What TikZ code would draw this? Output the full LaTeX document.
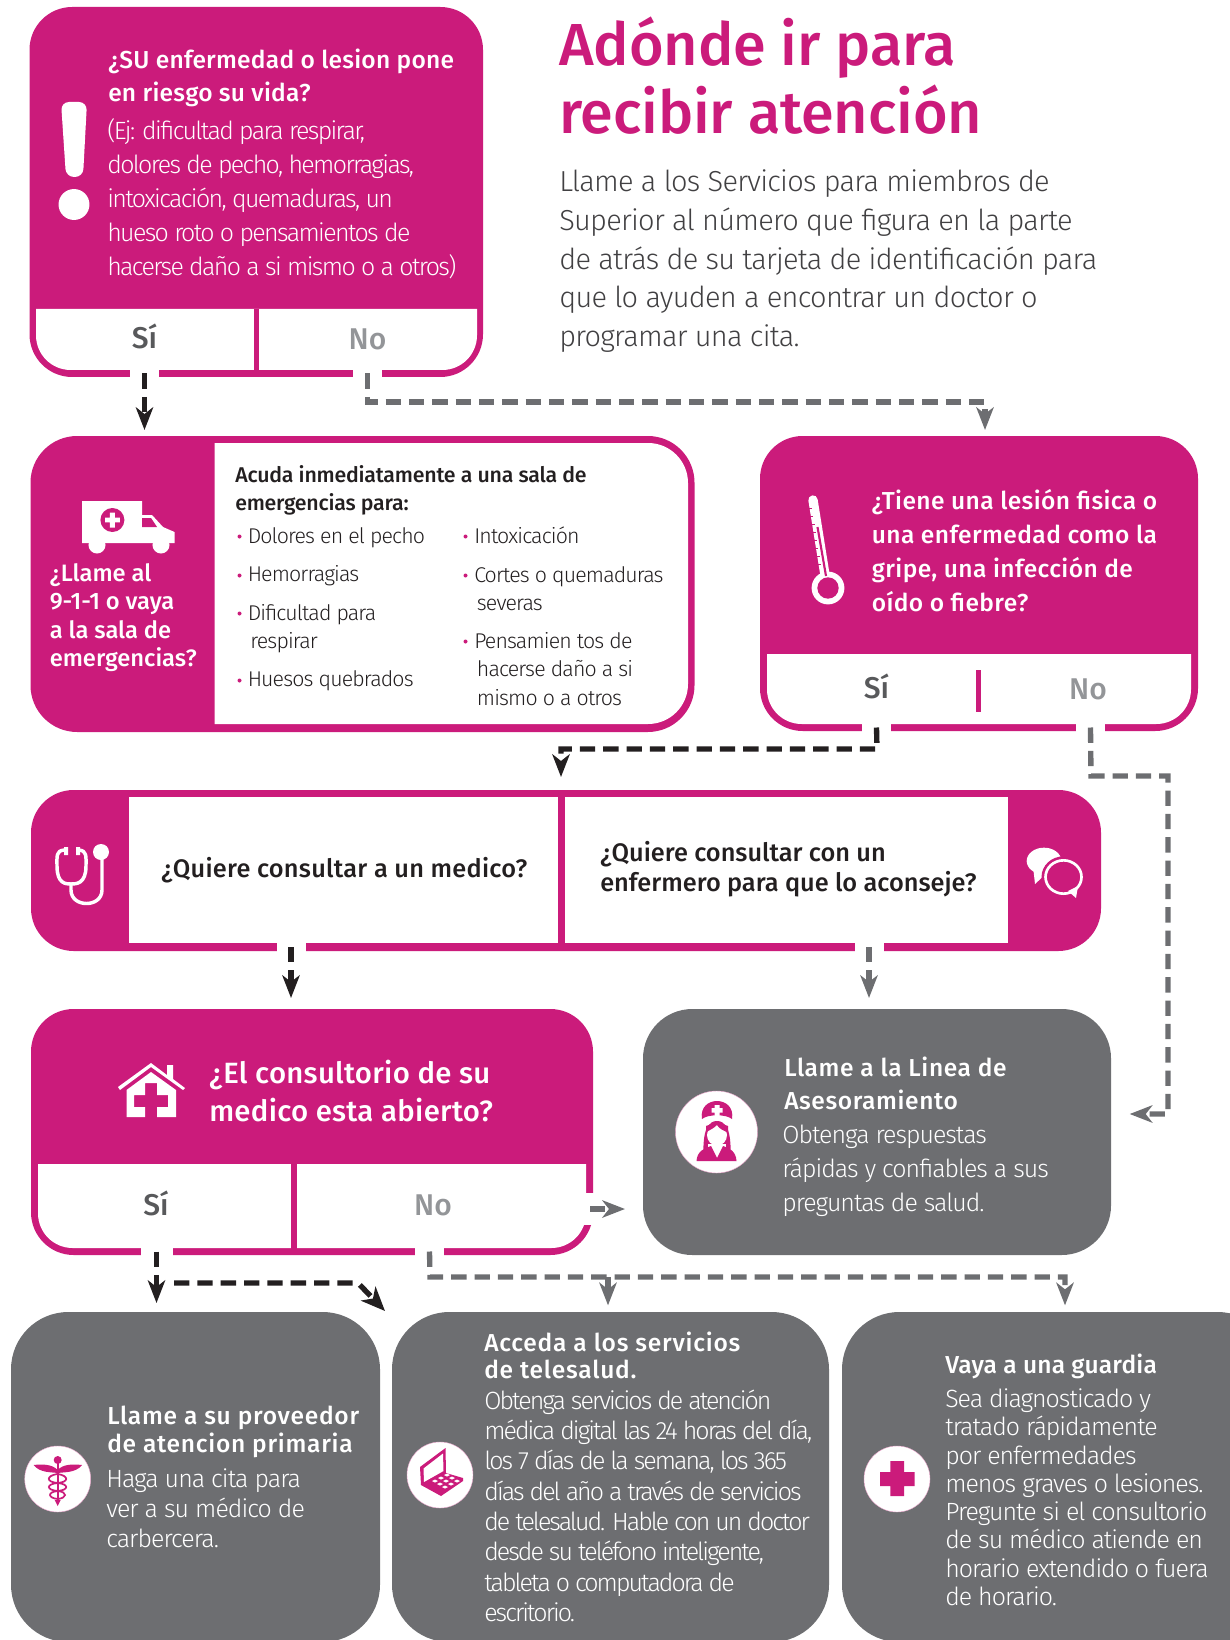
\documentclass[tikz,border=0pt]{standalone}
\usepackage{fontspec}
\usetikzlibrary{arrows.meta}
\setmainfont{Fira Sans}
\newfontfamily\lt{Fira Sans Light}
\newfontfamily\md{Fira Sans Medium}
\definecolor{mag}{HTML}{CB1B7B}
\definecolor{gry}{HTML}{6D6E71}
\definecolor{blk}{HTML}{231F20}
\definecolor{sic}{HTML}{58595B}
\definecolor{noc}{HTML}{939598}
\definecolor{intr}{HTML}{414042}
\newcommand\fs[3]{#1\fontsize{#2}{#2}\selectfont\addfontfeature{LetterSpace=#3}}
\newcommand\rbox[6]{\pgfmathsetmacro\bcx{(#3+#5)/2}\pgfmathsetmacro\bcy{(#4+#6)/2}\pgfmathsetmacro\bw{(#5-#3)*0.75}\pgfmathsetmacro\bh{(#6-#4)*0.75}\node[#2,minimum width=\bw pt,minimum height=\bh pt] (#1) at (\bcx,\bcy) {};}
\newcommand\txt[6]{\node[anchor=base west,inner sep=0pt,#4] (#1) at (#2,#3) {\vtop{\baselineskip=#5pt\lineskip=0pt\lineskiplimit=-100pt\halign{##\hfil\cr #6\crcr}}};}
\tikzset{
 shp/.style={inner sep=0pt,outer sep=0pt,rounded corners=32pt},
 magbox/.style={shp,fill=mag},
 grybox/.style={shp,fill=gry,rounded corners=37pt},
 bigbox/.style={shp,fill=gry,rounded corners=43pt},
 gap/.style={fill=white,inner sep=0pt,outer sep=0pt},
 head/.style={text=white,font=\fs{\md}{18.4}{#1}},
 head/.default=1,
 body/.style={text=white,font=\fs{\lt}{18.7}{#1}},
 blist/.style={text=blk,font=\fs{\lt}{16}{-4}},
 dhead/.style={text=blk,font=\fs{\md}{16}{-1}},
 qhead/.style={text=blk,font=\fs{\md}{19}{#1}},
 sitx/.style={text=sic,font=\fs{\md}{22.5}{0},anchor=base,inner sep=0pt},
 notx/.style={text=noc,font=\fs{\md}{22.5}{0},anchor=base,inner sep=0pt},
 conn/.style={line width=4pt,dash pattern=on 11.5pt off 6pt},
 yes/.style={conn,draw=blk},
 nope/.style={conn,draw=gry},
 tipk/.style={-{Stealth[length=17pt,width=13pt,inset=5pt,color=blk]}},
 tipg/.style={-{Stealth[length=17pt,width=13pt,inset=5pt,color=gry]}},
 disc/.style={circle,fill=white,draw=mag!40,line width=.3pt,inner sep=0pt,outer sep=0pt},
}
\begin{document}
\begin{tikzpicture}[x=0.75pt,y=-0.75pt]
\useasboundingbox (0,0) rectangle (1230,1640);
\clip (0,0) rectangle (1230,1640);
% --- box 1
\rbox{b1}{magbox}{29.5}{7}{483}{377}
\fill[white] (36,309) -- (477,309) [rounded corners=26pt] -- (477,370) -- (36,370) [sharp corners] -- cycle;
\fill[mag] (254,309) rectangle (259,372);
\node[gap,minimum width=21.75pt,minimum height=7pt] (g1si) at (144.5,373.5) {};
\node[gap,minimum width=21.75pt,minimum height=7pt] (g1no) at (367.5,373.5) {};
\txt{t1h}{108}{69}{head}{24.6}{¿SU enfermedad o lesion pone\cr en riesgo su vida?}
\txt{t1b}{107}{140}{body=-6.5}{25.5}{(Ej: dificultad para respirar,\cr dolores de pecho, hemorragias,\cr intoxicación, quemaduras, un\cr hueso roto o pensamientos de\cr hacerse daño a si mismo o a otros)}
\node[sitx] (s1) at (144.5,348.5) {Sí};
\node[notx] (n1) at (367.5,350) {No};
\fill[white,rounded corners=6pt] (61,102) -- (87,102) -- (83,177) -- (66,177) -- cycle;
\fill[white] (74,204.5) circle[radius=11.6pt];
% --- title
\txt{title}{559}{66}{text=mag,font=\fs{\md}{44.5}{-0.2}}{51}{Adónde ir para\cr recibir atención}
\txt{intro}{559}{192}{text=intr,font=\fs{\lt}{21.7}{-2.5}}{29}{Llame a los Servicios para miembros de\cr Superior al número que figura en la parte\cr de atrás de su tarjeta de identificación para\cr que lo ayuden a encontrar un doctor o\cr programar una cita.}
% --- box 2
\rbox{b2}{magbox,rounded corners=35pt}{30.5}{436}{694.5}{732}
\fill[white] (214.5,443) [rounded corners=30pt] -- (688,443) -- (688,724) [sharp corners] -- (214.5,724) -- cycle;
\txt{t2l}{49.5}{581}{head=0,font=\fs{\md}{17.8}{0}}{21.4}{¿Llame al\cr 9-1-1 o vaya\cr a la sala de\cr emergencias?}
\txt{t2h}{235}{482}{dhead}{21}{Acuda inmediatamente a una sala de\cr emergencias para:}
\txt{l1}{247.5}{543}{blist}{21}{Dolores en el pecho}
\txt{l2}{247.5}{581.5}{blist}{21}{Hemorragias}
\txt{l3}{247.5}{620}{blist}{21}{Dificultad para\cr\hskip2pt respirar}
\txt{l4}{247.5}{686.5}{blist}{21}{Huesos quebrados}
\txt{l5}{474}{543}{blist}{21}{Intoxicación}
\txt{l6}{474}{582}{blist}{21}{Cortes o quemaduras\cr\hskip2pt severas}
\txt{l7}{474}{648}{blist}{21.5}{Pensamien tos de\cr\hskip2pt hacerse daño a si\cr\hskip2pt mismo o a otros}
\foreach \bx/\by in {239.5/536.5,239.5/575.5,239.5/613.5,239.5/680.5,465.5/536.5,465.5/575.5,465.5/641.5}{\fill[mag] (\bx,\by) circle[radius=1.5pt];}
% ambulance
\fill[white] (82,501) -- (142,501) -- (142,515) -- (152,515) -- (163,527) -- (174.5,532) -- (174.5,543) -- (82,543) -- cycle;
\fill[white] (97,545) circle[radius=6.4pt] (161,545) circle[radius=6.4pt];
\fill[mag] (112.4,520) circle[radius=9pt];
\fill[white] (109.9,512.5) rectangle (114.9,527.5) (105,517.6) rectangle (119.8,522.4);
\fill[mag] (142,518) -- (151,518) -- (157,527) -- (142,527) -- cycle;
% --- box 3
\rbox{b3}{magbox}{760}{436}{1198}{731}
\fill[white] (767,654) -- (1191,654) [rounded corners=26pt] -- (1191,724) -- (767,724) [sharp corners] -- cycle;
\fill[mag] (976,670) rectangle (981,712);
\node[gap,minimum width=21.75pt,minimum height=7pt] (g3si) at (876.5,727.5) {};
\node[gap,minimum width=21.75pt,minimum height=7pt] (g3no) at (1090.5,727.5) {};
\txt{t3}{871.5}{509}{head=1.7}{25.6}{¿Tiene una lesión fisica o\cr una enfermedad como la\cr gripe, una infección de\cr oído o fiebre?}
\node[sitx] (s3) at (876.5,698.5) {Sí};
\node[notx] (n3) at (1088,699) {No};
% thermometer
\draw[white,line width=7pt,line cap=round] (813,500) -- (825,575);
\fill[white] (828,588) circle[radius=12.3pt];
\fill[mag] (828,588) circle[radius=8pt];
\draw[mag,line width=1.6pt] (817.5,527) -- (826,576);
\foreach \ty in {508,516,524,532,540,548,556,564}{\fill[mag] ({807+(\ty-498)*.155},\ty) rectangle ++(3.5,1.3);}
% --- box 4
\rbox{b4}{magbox}{31}{790}{1101}{951}
\fill[white] (129,797) rectangle (1008,943);
\node[inner sep=0pt,fill=mag,minimum width=5.25pt,minimum height=109.5pt] (div4) at (561.5,870) {};
\node[gap,minimum width=21.75pt,minimum height=7pt] (g4a) at (291,947) {};
\node[gap,minimum width=21.75pt,minimum height=7pt] (g4b) at (869,947) {};
\txt{t4a}{161}{877}{qhead=1}{22}{¿Quiere consultar a un medico?}
\txt{t4b}{600}{861.5}{qhead=0}{22.5}{¿Quiere consultar con un\cr enfermero para que lo aconseje?}
% stethoscope
\draw[white,line width=2.6pt,line cap=round] (64,850) .. controls (56,851) and (57,856) .. (57,866) .. controls (57,884) and (66,884) .. (71,884) .. controls (76,884) and (86,884) .. (86,866) .. controls (86,856) and (87,851) .. (79,850);
\draw[white,line width=2.6pt] (71,884) -- (71,890) .. controls (71,908) and (102,908) .. (102,890) -- (102,852);
\fill[white] (101,852) circle[radius=6pt];
\fill[white] (64,847) rectangle (68,855) (76,847) rectangle (80,855);
% chat
\fill[white] (1044,861) ellipse[x radius=13pt,y radius=10pt];
\fill[white] (1033,866) -- (1035,884) -- (1050,870) -- cycle;
\fill[mag] (1063.5,877) ellipse[x radius=16.5pt,y radius=15.5pt];
\draw[white,line width=2pt] (1063.5,877) ellipse[x radius=13.5pt,y radius=12.5pt];
\fill[white] (1068,891) -- (1076,898) -- (1078,886) -- cycle;
% --- box 5
\rbox{b5}{magbox}{31}{1009}{593}{1255}
\fill[white] (38,1164) -- (586,1164) [rounded corners=26pt] -- (586,1248) -- (38,1248) [sharp corners] -- cycle;
\fill[mag] (291,1164) rectangle (297,1250);
\node[gap,minimum width=24pt,minimum height=7pt] (g5si) at (156.5,1251.5) {};
\node[gap,minimum width=21.75pt,minimum height=7pt] (g5no) at (429.5,1251.5) {};
\node[gap,minimum width=9pt,minimum height=24pt] (g5r) at (590,1209) {};
\txt{t5}{209}{1083}{head=1,font=\fs{\md}{22}{1}}{29.2}{¿El consultorio de su\cr medico esta abierto?}
\node[sitx] (s5) at (156,1215.5) {Sí};
\node[notx] (n5) at (433,1215.5) {No};
% house
\fill[white] (118,1087) -- (151,1063) -- (167,1075) -- (167,1065) -- (173,1065) -- (173,1079) -- (185,1088) -- (183,1090) -- (151,1067) -- (120,1090) -- cycle;
\fill[white] (151,1072) -- (176,1090) -- (176,1117) -- (157,1117) -- (157,1107) -- (168,1107) -- (168,1095) -- (157,1095) -- (157,1083) -- (145,1083) -- (145,1095) -- (134,1095) -- (134,1107) -- (145,1107) -- (145,1117) -- (126.5,1117) -- (126.5,1090) -- cycle;
% --- box 6
\rbox{b6}{grybox}{643}{1009}{1111}{1255}
\txt{t6h}{784}{1076}{head=2.5}{25}{Llame a la Linea de\cr Asesoramiento}
\txt{t6b}{782}{1143.5}{body=-4}{25.5}{Obtenga respuestas\cr rápidas y confiables a sus\cr preguntas de salud.}
\node[disc,minimum size=61.5pt] (d6) at (716.5,1132) {};
% nurse
\fill[mag] (702,1119) .. controls (698,1095) and (736,1095) .. (732,1119) .. controls (726,1114) and (708,1114) .. (702,1119) -- cycle;
\fill[white] (714.5,1105) rectangle (719.5,1116) (711.5,1108) rectangle (722.5,1112.5);
\fill[mag] (717,1121) .. controls (701,1121) and (704,1150) .. (703,1158) -- (731,1158) .. controls (730,1150) and (733,1121) .. (717,1121) -- cycle;
\fill[white] (717,1135) ellipse[x radius=7.5pt,y radius=8pt];
\fill[mag] (717,1125) .. controls (712,1130) and (708,1130) .. (706,1133) -- (706,1126) -- (717,1122) -- (728,1126) -- (728,1133) .. controls (724,1130) and (720,1130) .. (717,1125) -- cycle;
\fill[white] (708,1144) rectangle (726,1158);
\fill[mag] (696.5,1161) .. controls (697,1151) and (705,1148) .. (711,1146) -- (717,1158) -- (723,1146) .. controls (729,1148) and (736,1151) .. (736.5,1161) -- cycle;
% --- box 7
\rbox{b7}{bigbox}{11}{1312}{380}{1642}
\txt{t7h}{107}{1424}{head=3}{21}{Llame a su proveedor\cr de atencion primaria}
\txt{t7b}{106}{1487}{body=-3.8}{22.8}{Haga una cita para\cr ver a su médico de\cr carbercera.}
\node[disc,minimum size=49.5pt] (d7) at (57.7,1479) {};
% caduceus
\fill[mag] (33.6,1465) .. controls (42,1464) and (52,1464) .. (57.7,1470) .. controls (63,1464) and (73,1464) .. (82,1465) .. controls (76,1473) and (64,1472) .. (57.7,1473) .. controls (51,1472) and (40,1473) .. (33.6,1465) -- cycle;
\fill[mag] (57.7,1460) circle[radius=3pt];
\draw[mag,line width=1.5pt] (57.7,1460) -- (57.7,1503);
\draw[mag,line width=1.3pt] (57,1474) .. controls (46,1476) and (46,1482) .. (57.7,1483) .. controls (69,1484) and (69,1490) .. (57.7,1491) .. controls (47,1492) and (48,1498) .. (57.7,1499);
\draw[mag,line width=1.3pt] (58,1474) .. controls (69,1476) and (69,1482) .. (57.7,1483) .. controls (46,1484) and (46,1490) .. (57.7,1491) .. controls (68,1492) and (67,1498) .. (57.7,1499);
\fill[mag] (54.7,1500) -- (60.7,1500) -- (57.7,1506) -- cycle;
% --- box 8
\rbox{b8}{bigbox}{392}{1312}{829}{1642}
\txt{t8h}{484}{1351}{head=3.2}{20.3}{Acceda a los servicios\cr de telesalud.}
\txt{t8b}{484}{1409}{body=-7.8}{22.75}{Obtenga servicios de atención\cr médica digital las 24 horas del día,\cr los 7 días de la semana, los 365\cr días del año a través de servicios\cr de telesalud. Hable con un doctor\cr desde su teléfono inteligente,\cr tableta o computadora de\cr escritorio.}
\node[disc,minimum size=49.5pt] (d8) at (440,1475) {};
% laptop
\fill[mag] (420,1467) -- (445.5,1448) -- (446,1473) -- (463,1478) -- (463,1481) -- (441,1496) -- (421,1485) -- cycle;
\fill[white] (423.5,1468.5) -- (443,1453.5) -- (443.5,1471) -- (424,1482) -- cycle;
\foreach \kx/\ky in {432/1481,438/1478,444/1475,437/1484,443/1481,449/1478,442/1487,448/1484,454/1481}{\fill[white] (\kx,\ky) -- ++(3,-1.5) -- ++(3,1.5) -- ++(-3,1.5) -- cycle;}
% --- box 9
\rbox{b9}{bigbox}{842}{1312}{1275}{1642}
\txt{t9h}{945}{1373.5}{head=0.7}{21}{Vaya a una guardia}
\txt{t9b}{945}{1407.5}{body=-4}{21.2}{Sea diagnosticado y\cr tratado rápidamente\cr por enfermedades\cr menos graves o lesiones.\cr Pregunte si el consultorio\cr de su médico atiende en\cr horario extendido o fuera\cr de horario.}
\node[disc,minimum size=49.5pt] (d9) at (897,1479) {};
\fill[mag] (890.4,1461) rectangle (904,1496) (880,1472) rectangle (914.5,1486);
% --- connectors
\coordinate (c1a) at (g1no.center |- 0,402);
\coordinate (c1b) at (985,402);
\coordinate (c3a) at (561,749);
\coordinate (c3c) at (877,749);
\coordinate (c3d) at (1091,776);
\coordinate (c3e) at (1168,776);
\coordinate (c3f) at (1168,1114);
\coordinate (c5a) at (174,1283);
\coordinate (c5b) at (358,1283);
\coordinate (c5c) at (385,1311);
\coordinate (c5d) at (430,1277);
\coordinate (c5e) at (608,1277);
\coordinate (c5f) at (1065,1277);
\draw[yes,tipk,shorten >=4.5pt] (g1si.center) -- (g1si.center |- b2.north);
\draw[nope,tipg,shorten >=4.5pt] (g1no.center) -- (c1a) -- (c1b) -- (c1b |- b3.north);
\draw[yes,tipk,shorten >=9.75pt] (g3si.center) -- (c3c) -- (c3a) -- (c3a |- b4.north);
\draw[nope,tipg,shorten >=14pt] (g3no.center) -- (c3d) -- (c3e) -- (c3f) -- (c3f -| b6.east);
\draw[yes,tipk,shorten >=8.25pt] (g4a.center) -- (g4a.center |- b5.north);
\draw[nope,tipg,shorten >=8.25pt] (g4b.center) -- (g4b.center |- b6.north);
\draw[nope,tipg,shorten >=13.5pt] (g5r.center) -- (g5r.center -| b6.west);
\draw[yes,tipk,shorten >=6.75pt] (g5si.center) -- (g5si.center |- b7.north);
\draw[yes,-{Stealth[length=18pt,width=15pt,inset=5pt,color=blk]}] (c5a) -- (c5b) -- (c5c);
\draw[nope,tipg,shorten >=5pt] (g5no.center) -- (c5d) -- (c5f) -- (c5f |- b9.north);
\draw[nope,tipg,shorten >=5pt] (c5e) -- (c5e |- b8.north);
\end{tikzpicture}
\end{document}
